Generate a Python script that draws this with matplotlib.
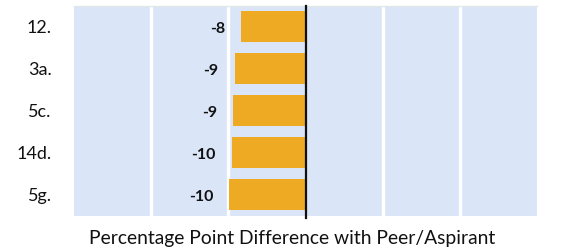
import matplotlib
matplotlib.use("Agg")
import matplotlib.pyplot as plt

categories = ["12.", "3a.", "5c.", "14d.", "5g."]
values = [-8.3, -9.2, -9.4, -9.55, -9.9]
value_labels = ["-8", "-9", "-9", "-10", "-10"]
grid_ticks = [-20, -10, 0, 10, 20]
xlabel = "Percentage Point Difference with Peer/Aspirant"

plt.rcParams['font.family'] = ['Lato', 'DejaVu Sans']

fig = plt.figure(figsize=(5.61, 2.48), dpi=100)
ax = fig.add_axes([74/561, 1-215.7/248, (537-74)/561, (215.7-5.7)/248])
ax.set_facecolor('#DAE5F7')

y = list(range(len(categories)))
ax.barh(y, values, height=0.73, color='#EEAA22', zorder=3)
ax.set_ylim(len(categories)-0.5, -0.5)
ax.set_xlim(-30, 30)

for g in grid_ticks:
    if g == 0:
        continue
    ax.axvline(g, color='white', lw=2.4, zorder=2)
ax.axvline(0, color='#111111', lw=1.6, zorder=4, ymin=-0.01, clip_on=False)

for yi, v, lab in zip(y, values, value_labels):
    ax.annotate(lab, xy=(v, yi), xytext=(-11.5, -1.5), textcoords='offset points',
                ha='right', va='center', fontsize=11.5, fontweight='bold', color='#111111')

ax.set_yticks(y)
ax.set_yticklabels(categories, fontsize=13, color='#111111')
ax.tick_params(axis='y', length=0, pad=16)
ax.set_xticks(grid_ticks)
ax.tick_params(axis='x', length=0, labelbottom=False)
ax.set_xlabel(xlabel, fontsize=13.9, color='#111111')
ax.xaxis.set_label_coords(0.472, -0.07, transform=ax.transAxes)
ax.xaxis.label.set_va('top')

for s in ['left', 'right', 'bottom']:
    ax.spines[s].set_visible(False)
ax.spines['top'].set_color('#E3E6EA')
ax.spines['top'].set_linewidth(1.0)

fig.savefig("out.png", dpi=100)
